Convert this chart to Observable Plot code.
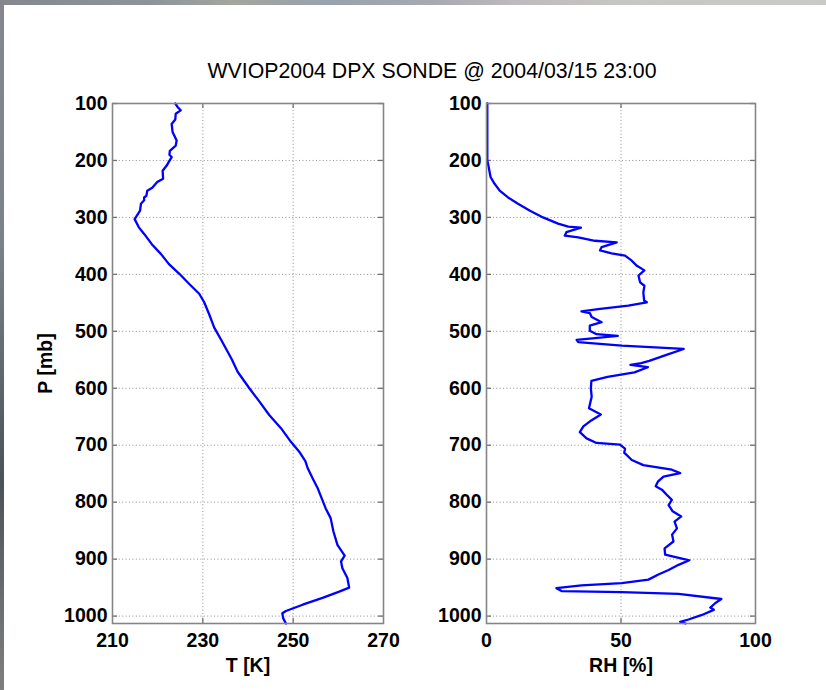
<!DOCTYPE html>
<html>
<head>
<meta charset="utf-8">
<script src="https://cdn.jsdelivr.net/npm/d3@7"></script>
<script src="https://cdn.jsdelivr.net/npm/@observablehq/plot@0.6"></script>
<style>
  html, body { margin: 0; padding: 0; background: #fff; }
  #page { position: relative; width: 826px; height: 690px; overflow: hidden; background: #fff;
          font-family: "Liberation Sans", Arial, Helvetica, sans-serif; }
  #edgeTop { position: absolute; left: 0; top: 0; width: 826px; height: 5px;
    background: linear-gradient(90deg, #84888e 0%, #8c949a 18%, #a3a59e 28%, #98a2ac 40%, #a6a9b0 52%, #bdb9bd 62%, #c6c6c2 75%, #c9c9c5 100%); }
  #edgeLeft { position: absolute; left: 0; top: 0; width: 4px; height: 690px;
    background: linear-gradient(180deg, #84888e 0%, #7c828a 35%, #555c62 62%, #4c5358 70%, #6c6f72 88%, #7e7e7e 100%); }
  #title { position: absolute; left: 0; top: 59px; width: 864px; text-align: center;
           font-size: 21.3px; color: #000; white-space: nowrap; }
  .panel { position: absolute; top: 80px; }
  .panel svg { overflow: visible; }
</style>
</head>
<body>
<div id="page">
  <div id="edgeTop"></div>
  <div id="edgeLeft"></div>
  <div id="title">WVIOP2004 DPX SONDE @ 2004/03/15 23:00</div>
  <div id="tPanel" class="panel" style="left:0px"></div>
  <div id="rhPanel" class="panel" style="left:373.5px"></div>
</div>
<script>
// Sounding profile: temperature (K) against pressure (mb)
const tempP = [100, 106, 112, 118, 128, 136, 150, 165, 174, 183, 190, 194, 202, 209, 218, 232, 238,
  248, 253, 262, 265, 270, 276, 288, 303, 317, 329, 347, 364, 382, 399, 417, 434, 449, 470, 493,
  517, 549, 571, 600, 623, 647, 670, 694, 711, 728, 740, 758, 775, 793, 811, 828, 851, 875, 894,
  904, 916, 933, 950, 957, 968, 980, 991, 995, 1004, 1013];
const tempK = [223.9, 224.4, 225.1, 224.0, 223.9, 223.1, 223.3, 224.2, 224.0, 222.7, 222.6, 223.1,
  222.5, 222.0, 221.1, 221.2, 219.9, 218.8, 217.7, 217.5, 217.0, 217.0, 216.3, 216.1, 214.9, 215.8,
  217.0, 218.7, 220.7, 222.5, 224.8, 227.0, 229.2, 230.3, 231.4, 232.5, 234.2, 236.4, 237.7, 240.3,
  242.5, 244.7, 247.3, 249.5, 251.3, 252.7, 253.2, 254.3, 255.4, 256.3, 257.2, 258.3, 258.9, 259.8,
  261.4, 260.6, 260.9, 262.0, 262.4, 260.2, 256.5, 252.1, 248.4, 247.6, 247.8, 248.4];

// Sounding profile: relative humidity (%) against pressure (mb)
const rhP = [100, 150, 200, 209, 229, 241, 253, 265, 276, 288, 300, 311, 316, 318, 326, 332, 335,
  341, 344, 352, 358, 363, 367, 376, 385, 393, 402, 414, 420, 432, 446, 449, 455, 461, 465, 468,
  475, 484, 490, 499, 505, 508, 512, 515, 519, 525, 531, 540, 552, 556, 559, 563, 572, 580, 587,
  600, 615, 629, 635, 646, 656, 667, 677, 688, 696, 699, 706, 713, 726, 735, 743, 749, 755, 764,
  772, 778, 787, 796, 805, 816, 825, 834, 846, 857, 869, 881, 892, 902, 910, 919, 927, 936, 942,
  946, 951, 956, 958, 961, 970, 977, 985, 989, 998, 1006, 1010, 1013];
const rhPct = [0.3, 0.3, 0.3, 0.7, 1.5, 3.0, 4.9, 8.0, 11.7, 16.0, 21.0, 26.6, 30.4, 35.1, 29.7,
  29.1, 34.1, 40.3, 48.4, 42.8, 42.2, 46.5, 51.5, 54.0, 55.9, 58.7, 56.5, 57.1, 58.7, 58.3, 58.6,
  59.6, 52.7, 41.5, 35.3, 38.4, 39.1, 42.8, 38.4, 38.4, 40.9, 48.8, 40.3, 33.5, 34.1, 50.3, 73.3,
  67.7, 60.5, 57.5, 53.5, 60.0, 55.0, 45.0, 39.0, 38.8, 39.1, 38.4, 38.1, 42.5, 39.1, 36.0, 34.7,
  37.2, 40.9, 49.6, 51.5, 51.2, 54.0, 58.3, 68.9, 72.0, 65.8, 63.7, 62.9, 65.2, 67.0, 68.9, 67.7,
  69.2, 72.4, 69.9, 70.8, 69.0, 69.5, 66.2, 66.4, 75.4, 71.4, 67.7, 63.9, 60.2, 50.3, 35.3, 26.0,
  27.9, 50.3, 71.4, 87.3, 85.1, 83.2, 84.5, 80.1, 75.1, 72.0, 74.0];

const pTicks = [100, 200, 300, 400, 500, 600, 700, 800, 900, 1000];
const pDomain = [100, 1013];
const tTicks = [210, 230, 250, 270];
const rhTicks = [0, 50, 100];

const FRAME_H = 520;
const MARGIN_TOP = 23;
const MARGIN_BOTTOM = 67;
const MARGIN_LEFT = 112;
const MARGIN_RIGHT = 12;

function profilePanel({values, pressures, xDomain, xTicks, xLabel, yLabel, frameW}) {
  const inner = xTicks.slice(1, -1);
  const rows = pressures.map((p, i) => ({p, v: values[i]}));
  const grid = {stroke: "#8f8f8f", strokeOpacity: 1, strokeWidth: 1, strokeDasharray: "1,2.4"};
  const tick = {stroke: "#6f6f6f", strokeWidth: 1.3};
  return Plot.plot({
    width: MARGIN_LEFT + frameW + MARGIN_RIGHT,
    height: MARGIN_TOP + FRAME_H + MARGIN_BOTTOM,
    marginLeft: MARGIN_LEFT,
    marginRight: MARGIN_RIGHT,
    marginTop: MARGIN_TOP,
    marginBottom: MARGIN_BOTTOM,
    style: {
      fontFamily: "'Liberation Sans', Arial, Helvetica, sans-serif",
      fontSize: "19.5px",
      fontWeight: "bold",
      color: "#000",
      background: "transparent"
    },
    x: {domain: xDomain, label: null},
    y: {domain: pDomain, reverse: true, label: null},
    marks: [
      Plot.gridX(inner, grid),
      Plot.gridY(pTicks, grid),
      Plot.tickY(pTicks, {y: d => d, insetRight: frameW - 5, ...tick}),
      Plot.tickY(pTicks, {y: d => d, insetLeft: frameW - 5, ...tick}),
      Plot.tickX(inner, {x: d => d, insetBottom: FRAME_H - 5, ...tick}),
      Plot.tickX(inner, {x: d => d, insetTop: FRAME_H - 5, ...tick}),
      Plot.line(rows, {x: "v", y: "p", stroke: "#0000ff", strokeWidth: 2.3, strokeLinejoin: "round"}),
      Plot.frame({stroke: "#858585", strokeWidth: 1.6}),
      Plot.axisX(xTicks, {anchor: "bottom", tickSize: 0, tickPadding: 10, tickFormat: d => String(d),
        label: xLabel, labelAnchor: "center", labelOffset: 48, labelArrow: "none"}),
      Plot.axisY(pTicks, {anchor: "left", tickSize: 0, tickPadding: 5, tickFormat: d => String(d),
        label: yLabel, labelAnchor: "center", labelOffset: 74, labelArrow: "none"})
    ]
  });
}

document.getElementById("tPanel").append(profilePanel({
  values: tempK, pressures: tempP, xDomain: [210, 270], xTicks: tTicks,
  xLabel: "T [K]", yLabel: "P [mb]", frameW: 271
}));

document.getElementById("rhPanel").append(profilePanel({
  values: rhPct, pressures: rhP, xDomain: [0, 100], xTicks: rhTicks,
  xLabel: "RH [%]", yLabel: null, frameW: 269
}));
</script>
</body>
</html>
